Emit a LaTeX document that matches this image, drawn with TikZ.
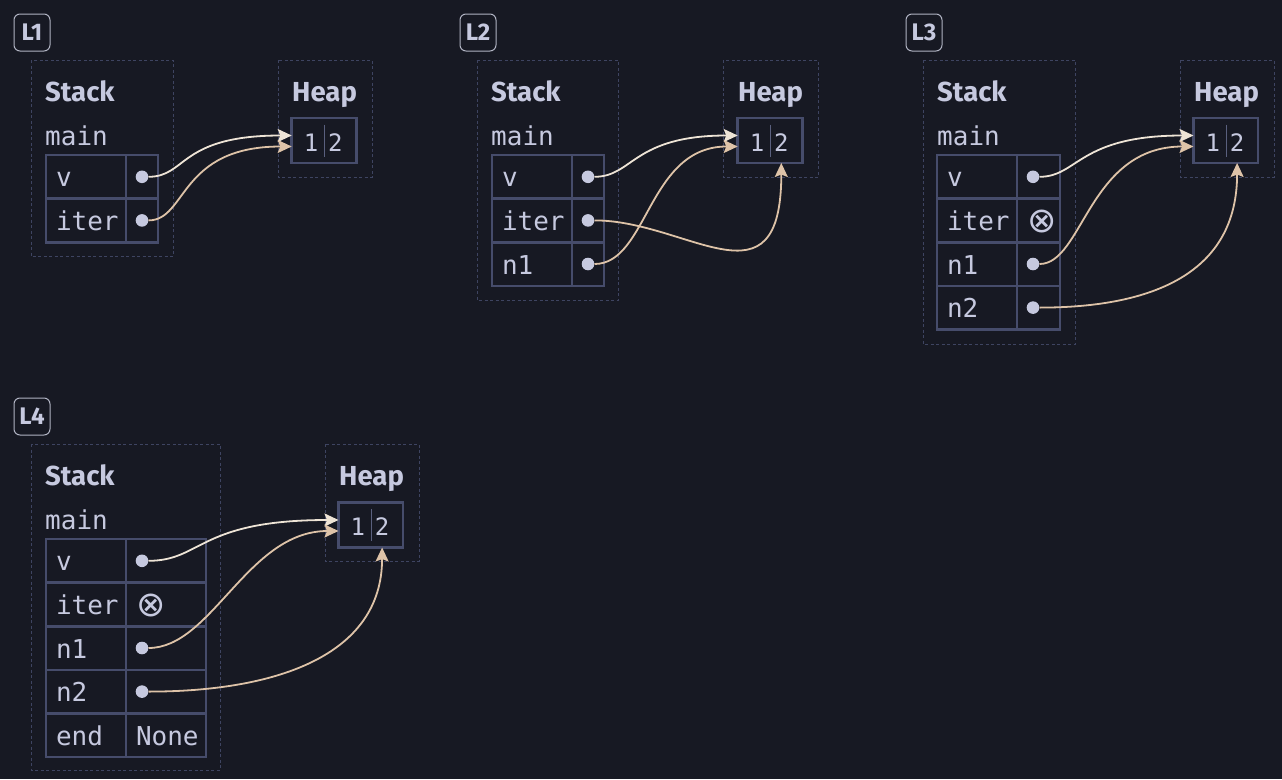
\documentclass[tikz,border=0pt]{standalone}
\usepackage{fontspec}
\setmainfont{Fira Sans}
\newfontfamily\monof{DejaVu Sans Mono}
\newfontfamily\symf{DejaVu Sans}
\usetikzlibrary{arrows.meta}
\definecolor{bgc}{HTML}{171923}
\definecolor{txt}{HTML}{C6C9DF}
\definecolor{grid}{HTML}{464C6B}
\definecolor{dashc}{HTML}{3E4461}
\definecolor{lblc}{HTML}{B0B3C2}
\definecolor{ptrA}{HTML}{EEE4D6}
\definecolor{ptrB}{HTML}{DEC3A8}
\definecolor{divc}{HTML}{5A607E}
\tikzset{
  region/.style={draw=dashc, line width=0.9pt, dash pattern=on 3pt off 2.5pt},
  lbl/.style={draw=lblc, line width=1pt, rounded corners=6pt, minimum width=36pt, minimum height=37pt, anchor=north west, inner sep=0pt, outer sep=0pt, text=txt, font=\bfseries\fontsize{24}{26}\selectfont},
  ttl/.style={anchor=base west, inner sep=0pt, text=txt, font=\bfseries\fontsize{27.5}{30}\selectfont},
  frm/.style={anchor=base west, inner sep=0pt, text=txt, font=\monof\fontsize{26}{28}\selectfont},
  cellbase/.style={draw=grid, line width=2.6pt, anchor=north west, minimum height=43.6pt, inner xsep=10pt, inner ysep=0pt, outer sep=0pt, text height=25pt, text depth=5pt, align=left, text=txt, font=\monof\fontsize{26}{28}\selectfont},
  namec/.style={cellbase, text width=60pt},
  valc/.style={cellbase, text width=#1},
  dot/.style={circle, fill=txt, inner sep=0pt, minimum size=12.6pt},
  heapc/.style={draw=grid, line width=2.6pt, anchor=north west, minimum width=64.5pt, minimum height=45pt, inner sep=0pt, outer sep=0pt},
  digit/.style={anchor=base, inner sep=0pt, text=txt, font=\monof\fontsize{24}{26}\selectfont},
  ptr/.style={line width=1.8pt, -{Stealth[length=14pt,width=13pt,inset=2.5pt]}},
}
\newcommand\heapbox[3]{%
  \node[heapc] (#1) at (#2,#3) {};
  \node[digit] (#1a) at ([xshift=19.3pt,yshift=-10.5pt]#1.west) {1};
  \node[digit] (#1b) at ([xshift=43.6pt,yshift=-10.5pt]#1.west) {2};
  \draw[divc, line width=1pt] ([xshift=32.6pt,yshift=16pt]#1.west) -- ([xshift=32.6pt,yshift=-16pt]#1.west);
}
\newcommand\stackrow[7]{%
  \node[namec] (#1n) at (#2,#3) {#4};
  \node[valc=#6] (#1v) at (#5,#3) {#7};
}
\newcommand\xo{\raisebox{-2.5pt}{\symf\fontsize{35}{36}\selectfont ⊗}}
\begin{document}
\begin{tikzpicture}[x=1pt,y=-1pt]
\fill[bgc] (0,0) rectangle (1282,779);
\useasboundingbox (0,0) rectangle (1282,779);

% ---------- L1 ----------
\node[lbl] (lab1) at (14,14) {L1};
\draw[region] (31,60) rectangle (173,256.5);
\draw[region] (278,60) rectangle (372,177);
\node[ttl] (l1st) at (45,101.5) {Stack};
\node[ttl] (l1ht) at (292,101.5) {Heap};
\node[frm] (l1main) at (45,145) {main};
\stackrow{l1r1}{46}{155}{v}{126}{12pt}{}
\stackrow{l1r2}{46}{198.6}{iter}{126}{12pt}{}
\node[dot] (l1vd) at ([xshift=16pt]l1r1v.west) {};
\node[dot] (l1id) at ([xshift=16pt]l1r2v.west) {};
\heapbox{l1h}{291.7}{118}
\draw[ptr, ptrA] (l1vd) .. controls +(45,0) and +(-113,0) .. ([yshift=5pt]l1h.west);
\draw[ptr, ptrB] (l1id) .. controls +(45,0) and +(-113,0) .. ([yshift=-6pt]l1h.west);

% ---------- L2 ----------
\node[lbl] (lab2) at (460,14) {L2};
\draw[region] (477,60) rectangle (618,300);
\draw[region] (723,60) rectangle (818,177);
\node[ttl] (l2st) at (491,101.5) {Stack};
\node[ttl] (l2ht) at (738,101.5) {Heap};
\node[frm] (l2main) at (491,145) {main};
\stackrow{l2r1}{492}{155}{v}{572}{12pt}{}
\stackrow{l2r2}{492}{198.6}{iter}{572}{12pt}{}
\stackrow{l2r3}{492}{242.2}{n1}{572}{12pt}{}
\node[dot] (l2vd) at ([xshift=16pt]l2r1v.west) {};
\node[dot] (l2id) at ([xshift=16pt]l2r2v.west) {};
\node[dot] (l2nd) at ([xshift=16pt]l2r3v.west) {};
\heapbox{l2h}{737.7}{118}
\draw[ptr, ptrA] (l2vd) .. controls +(45,0) and +(-105,0) .. ([yshift=5pt]l2h.west);
\draw[ptr, ptrB] (l2id) .. controls +(100,0) and +(0,150) .. (l2hb |- l2h.south);
\draw[ptr, ptrB] (l2nd) .. controls +(60,0) and +(-90,0) .. ([yshift=-6pt]l2h.west);

% ---------- L3 ----------
\node[lbl] (lab3) at (906,14) {L3};
\draw[region] (923,60) rectangle (1075,344);
\draw[region] (1180,60) rectangle (1274,177);
\node[ttl] (l3st) at (937,101.5) {Stack};
\node[ttl] (l3ht) at (1194,101.5) {Heap};
\node[frm] (l3main) at (937,145) {main};
\stackrow{l3r1}{937}{155}{v}{1017}{23pt}{}
\stackrow{l3r2}{937}{198.6}{iter}{1017}{23pt}{\xo}
\stackrow{l3r3}{937}{242.2}{n1}{1017}{23pt}{}
\stackrow{l3r4}{937}{285.8}{n2}{1017}{23pt}{}
\node[dot] (l3vd) at ([xshift=16pt]l3r1v.west) {};
\node[dot] (l3nd) at ([xshift=16pt]l3r3v.west) {};
\node[dot] (l3md) at ([xshift=16pt]l3r4v.west) {};
\heapbox{l3h}{1193.5}{118}
\draw[ptr, ptrA] (l3vd) .. controls +(45,0) and +(-115,0) .. ([yshift=5pt]l3h.west);
\draw[ptr, ptrB] (l3nd) .. controls +(50,0) and +(-105,0) .. ([yshift=-6pt]l3h.west);
\draw[ptr, ptrB] (l3md) .. controls +(120,0) and +(0,110) .. (l3hb |- l3h.south);

% ---------- L4 ----------
\node[lbl] (lab4) at (14,398) {L4};
\draw[region] (31,444) rectangle (220,770);
\draw[region] (325,444) rectangle (419,561);
\node[ttl] (l4st) at (45,485.5) {Stack};
\node[ttl] (l4ht) at (339,485.5) {Heap};
\node[frm] (l4main) at (45,529) {main};
\stackrow{l4r1}{46}{539}{v}{126}{60pt}{}
\stackrow{l4r2}{46}{582.6}{iter}{126}{60pt}{\xo}
\stackrow{l4r3}{46}{626.2}{n1}{126}{60pt}{}
\stackrow{l4r4}{46}{669.8}{n2}{126}{60pt}{}
\stackrow{l4r5}{46}{713.4}{end}{126}{60pt}{None}
\node[dot] (l4vd) at ([xshift=16pt]l4r1v.west) {};
\node[dot] (l4nd) at ([xshift=16pt]l4r3v.west) {};
\node[dot] (l4md) at ([xshift=16pt]l4r4v.west) {};
\heapbox{l4h}{338.5}{502.5}
\draw[ptr, ptrA] (l4vd) .. controls +(60,0) and +(-140,0) .. ([yshift=5pt]l4h.west);
\draw[ptr, ptrB] (l4nd) .. controls +(70,0) and +(-91,0) .. ([yshift=-6pt]l4h.west);
\draw[ptr, ptrB] (l4md) .. controls +(130,0) and +(0,110) .. (l4hb |- l4h.south);
\end{tikzpicture}
\end{document}
